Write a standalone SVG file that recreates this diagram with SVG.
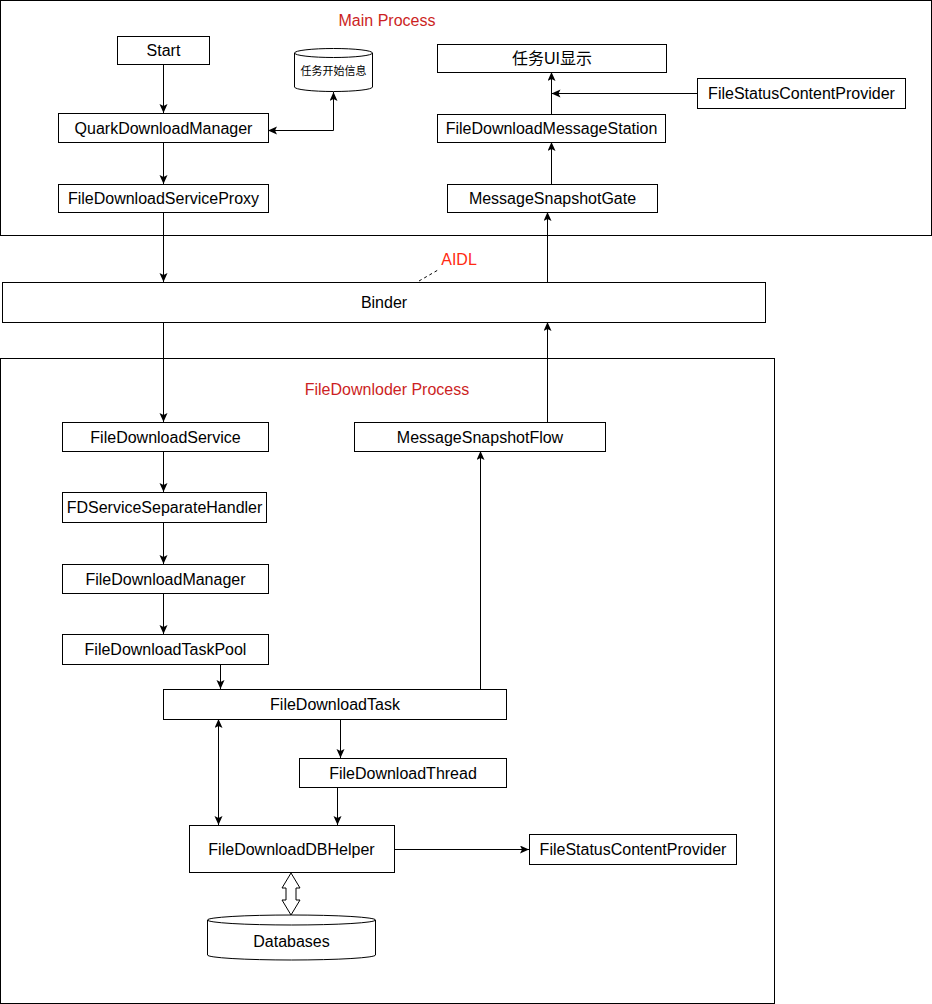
<svg xmlns="http://www.w3.org/2000/svg" width="932" height="1004" viewBox="0 0 932 1004">
<defs>
<marker id="arr" markerUnits="userSpaceOnUse" markerWidth="10" markerHeight="10" refX="9" refY="4" orient="auto-start-reverse">
<path d="M0,0 L9,4 L0,8 L2,4 z" fill="#000"/>
</marker>
</defs>
<style>
.box{fill:#fff;stroke:#000;stroke-width:1}
.cont{fill:none;stroke:#000;stroke-width:1}
.t{font-family:"Liberation Sans",Arial,"Noto Sans CJK SC",sans-serif;font-size:16px;fill:#000;text-anchor:middle}
.small{font-size:11px}
.red{fill:#cc1f24}
.aidl{fill:#ff2a12}
.ln{fill:none;stroke:#000;stroke-width:1}
.a{marker-end:url(#arr)}
.b{marker-start:url(#arr);marker-end:url(#arr)}
</style>
<rect width="932" height="1004" fill="#fff"/>
<g id="main-process">
<rect class="cont" x="0.5" y="0.5" width="931" height="235"/>
<text class="t red" x="387" y="26">Main Process</text>
</g>
<g id="downloader-process">
<rect class="cont" x="0.5" y="358.5" width="774" height="645"/>
<text class="t red" x="387" y="395">FileDownloder Process</text>
</g>
<g id="connectors">
<path class="ln a" d="M163.5,64 V113"/>
<path class="ln b" d="M333.5,92 V130.5 H268"/>
<path class="ln a" d="M163.5,142 V184"/>
<path class="ln a" d="M163.5,212 V282"/>
<path class="ln a" d="M163.5,322 V422"/>
<path class="ln a" d="M163.5,451 V492"/>
<path class="ln a" d="M163.5,522 V564"/>
<path class="ln a" d="M163.5,593 V634"/>
<path class="ln a" d="M220.5,664 V689"/>
<path class="ln a" d="M340.5,719 V758"/>
<path class="ln a" d="M337.5,787 V825"/>
<path class="ln b" d="M218.5,825 V719"/>
<path class="ln a" d="M394,849.5 H529"/>
<path class="ln a" d="M480.5,689 L480.5,451"/>
<path class="ln a" d="M547.5,422 V322"/>
<path class="ln a" d="M547.5,282 V212"/>
<path class="ln a" d="M551.5,184 V142"/>
<path class="ln a" d="M551.5,114 V72"/>
<path class="ln a" d="M697,93.5 H551.5"/>
<path d="M419,281 L438,270" fill="none" stroke="#000" stroke-width="1" stroke-dasharray="3,3"/>
<polygon points="291,873 300,888 296,888 296,900 300,900 291,915 282,900 286,900 286,888 282,888" fill="#fff" stroke="#000" stroke-width="1"/>
</g>
<g id="aidl-label"><text class="t aidl" x="459" y="265">AIDL</text></g>
<g id="start"><rect class="box" x="117.5" y="36.5" width="92" height="28"/><text class="t" x="163.5" y="56">Start</text></g>
<g id="task-info-db">
<path class="box" d="M294.5,53 A39,4.5 0 0 1 372.5,53 V87 A39,4.5 0 0 1 294.5,87 Z"/>
<path class="ln" d="M294.5,53 A39,4.5 0 0 0 372.5,53"/>
<text class="t small" x="333.5" y="75">任务开始信息</text>
</g>
<g id="quark"><rect class="box" x="58.5" y="113.5" width="210" height="29"/><text class="t" x="163.5" y="134">QuarkDownloadManager</text></g>
<g id="proxy"><rect class="box" x="58.5" y="184.5" width="210" height="28"/><text class="t" x="163.5" y="204">FileDownloadServiceProxy</text></g>
<g id="ui"><rect class="box" x="437.5" y="44.5" width="229" height="28"/><text class="t" x="552" y="64">任务UI显示</text></g>
<g id="fscp-top"><rect class="box" x="697.5" y="78.5" width="208" height="30"/><text class="t" x="801.5" y="99">FileStatusContentProvider</text></g>
<g id="station"><rect class="box" x="437.5" y="114.5" width="228" height="28"/><text class="t" x="551.5" y="134">FileDownloadMessageStation</text></g>
<g id="gate"><rect class="box" x="447.5" y="184.5" width="210" height="28"/><text class="t" x="552.5" y="204">MessageSnapshotGate</text></g>
<g id="binder"><rect class="box" x="2.5" y="282.5" width="763" height="40"/><text class="t" x="384" y="308">Binder</text></g>
<g id="service"><rect class="box" x="62.5" y="422.5" width="206" height="29"/><text class="t" x="165.5" y="443">FileDownloadService</text></g>
<g id="flow"><rect class="box" x="354.5" y="422.5" width="251" height="29"/><text class="t" x="480" y="443">MessageSnapshotFlow</text></g>
<g id="separate-handler"><rect class="box" x="62.5" y="492.5" width="204" height="30"/><text class="t" x="164.5" y="513">FDServiceSeparateHandler</text></g>
<g id="manager"><rect class="box" x="62.5" y="564.5" width="206" height="29"/><text class="t" x="165.5" y="585">FileDownloadManager</text></g>
<g id="pool"><rect class="box" x="62.5" y="634.5" width="206" height="30"/><text class="t" x="165.5" y="655">FileDownloadTaskPool</text></g>
<g id="task"><rect class="box" x="163.5" y="689.5" width="343" height="30"/><text class="t" x="335" y="710">FileDownloadTask</text></g>
<g id="thread"><rect class="box" x="299.5" y="758.5" width="207" height="29"/><text class="t" x="403" y="779">FileDownloadThread</text></g>
<g id="dbhelper"><rect class="box" x="189.5" y="825.5" width="205" height="47"/><text class="t" x="291.5" y="855">FileDownloadDBHelper</text></g>
<g id="fscp-bottom"><rect class="box" x="529.5" y="834.5" width="207" height="30"/><text class="t" x="633" y="855">FileStatusContentProvider</text></g>
<g id="databases">
<path class="box" d="M207.5,920 A84,5 0 0 1 375.5,920 V955 A84,5 0 0 1 207.5,955 Z"/>
<path class="ln" d="M207.5,920 A84,5 0 0 0 375.5,920"/>
<text class="t" x="291.5" y="947">Databases</text>
</g>
</svg>
